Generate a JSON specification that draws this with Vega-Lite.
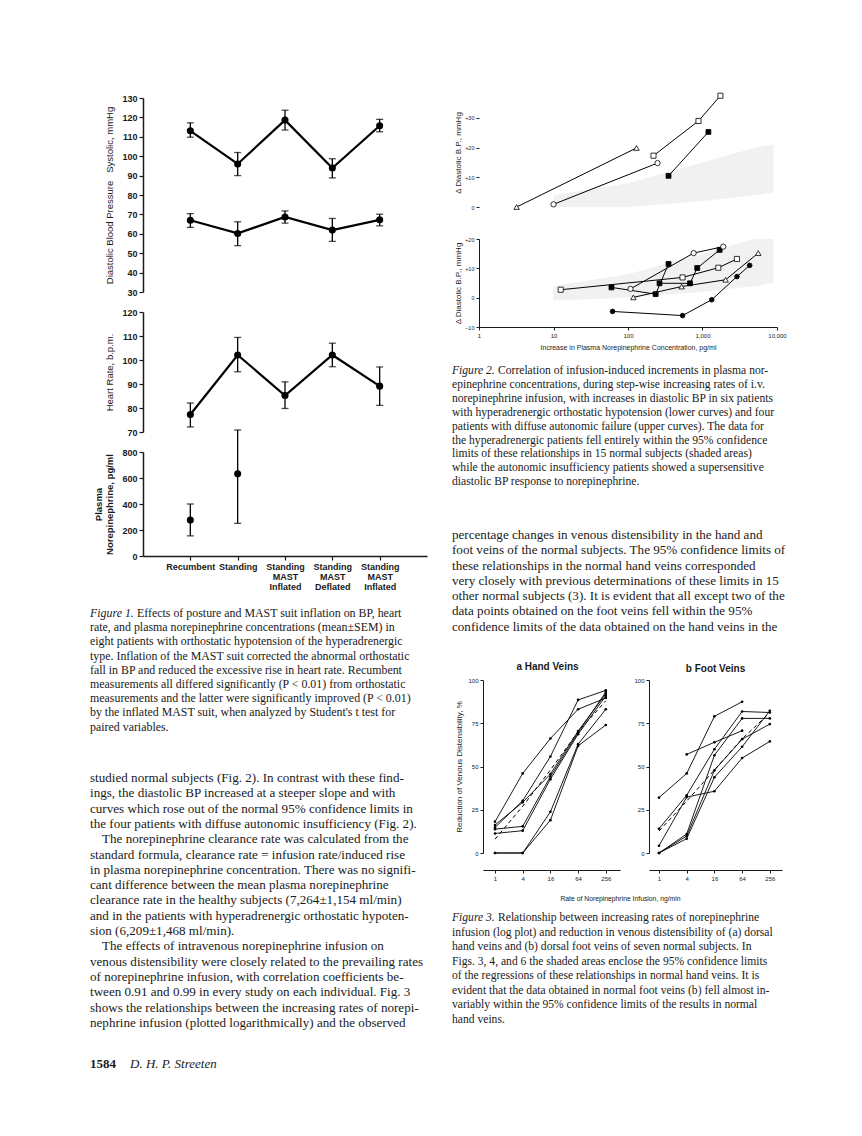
{
"$schema":"https://vega.github.io/schema/vega-lite/v6.json",
"background":"white",
"autosize":{"type":"pad"},
"padding":{"left":90,"top":91,"right":80,"bottom":58},
"config":{"view":{"stroke":null},"axis":{"labelFont":"Liberation Sans","titleFont":"Liberation Sans","grid":false,"labelOverlap":false,"labelFlush":false,"domainColor":"#1a1a1a","tickColor":"#1a1a1a","labelColor":"#1a1a1a","titleColor":"#1a1a1a"},"title":{"font":"Liberation Sans","color":"#1a1a1a"},"text":{"color":"#1a1a1a"}},
"datasets":{
"fig1":[
{"measure":"Systolic","cond":"Recumbent","mean":113.1,"lo":109.8,"hi":117.2},
{"measure":"Systolic","cond":"Standing","mean":96,"lo":90,"hi":101.9},
{"measure":"Systolic","cond":"Standing MAST Inflated","mean":118.6,"lo":113.5,"hi":123.7},
{"measure":"Systolic","cond":"Standing MAST Deflated","mean":93.9,"lo":88.8,"hi":98.7},
{"measure":"Systolic","cond":"Standing MAST Inflated#2","mean":115.7,"lo":112.6,"hi":119},
{"measure":"Diastolic","cond":"Recumbent","mean":67,"lo":63.3,"hi":70.4},
{"measure":"Diastolic","cond":"Standing","mean":60.2,"lo":53.9,"hi":66.2},
{"measure":"Diastolic","cond":"Standing MAST Inflated","mean":68.7,"lo":65.5,"hi":71.8},
{"measure":"Diastolic","cond":"Standing MAST Deflated","mean":61.9,"lo":56.1,"hi":67.9},
{"measure":"Diastolic","cond":"Standing MAST Inflated#2","mean":67.2,"lo":64.1,"hi":70.1},
{"measure":"Heart rate","cond":"Recumbent","mean":77.3,"lo":72.1,"hi":82.1},
{"measure":"Heart rate","cond":"Standing","mean":102.1,"lo":95.1,"hi":109.4},
{"measure":"Heart rate","cond":"Standing MAST Inflated","mean":85.2,"lo":79.8,"hi":90.9},
{"measure":"Heart rate","cond":"Standing MAST Deflated","mean":102.1,"lo":97.2,"hi":107},
{"measure":"Heart rate","cond":"Standing MAST Inflated#2","mean":89.1,"lo":81.1,"hi":97.1},
{"measure":"Norepinephrine","cond":"Recumbent","mean":276,"lo":155,"hi":400},
{"measure":"Norepinephrine","cond":"Standing","mean":632,"lo":251,"hi":969}
],
"fig2":[
{"panel":"diffuse","subject":"D1","marker":"open triangle","ne":3.2,"dbp":0},
{"panel":"diffuse","subject":"D1","marker":"open triangle","ne":130,"dbp":19.9},
{"panel":"diffuse","subject":"D2","marker":"open circle","ne":10,"dbp":0.9},
{"panel":"diffuse","subject":"D2","marker":"open circle","ne":249,"dbp":14.8},
{"panel":"diffuse","subject":"D3","marker":"open square","ne":220,"dbp":17.3},
{"panel":"diffuse","subject":"D3","marker":"open square","ne":883,"dbp":29},
{"panel":"diffuse","subject":"D3","marker":"open square","ne":1740,"dbp":37.5},
{"panel":"diffuse","subject":"D4","marker":"filled square","ne":350,"dbp":10.5},
{"panel":"diffuse","subject":"D4","marker":"filled square","ne":1200,"dbp":25.3},
{"panel":"hyper","subject":"H1","marker":"open square","ne":12.5,"dbp":2.7},
{"panel":"hyper","subject":"H1","marker":"open square","ne":540,"dbp":6.9},
{"panel":"hyper","subject":"H1","marker":"open square","ne":1630,"dbp":10.2},
{"panel":"hyper","subject":"H1","marker":"open square","ne":2900,"dbp":13.2},
{"panel":"hyper","subject":"H2","marker":"filled square","ne":60,"dbp":3.5},
{"panel":"hyper","subject":"H2","marker":"filled square","ne":235,"dbp":1.2},
{"panel":"hyper","subject":"H2","marker":"filled square","ne":350,"dbp":11.5},
{"panel":"hyper","subject":"H3","marker":"filled square","ne":265,"dbp":4.9},
{"panel":"hyper","subject":"H3","marker":"filled square","ne":680,"dbp":4.9},
{"panel":"hyper","subject":"H3","marker":"filled square","ne":850,"dbp":10.1},
{"panel":"hyper","subject":"H3","marker":"filled square","ne":1700,"dbp":16.3},
{"panel":"hyper","subject":"H4","marker":"open triangle","ne":118,"dbp":0.1},
{"panel":"hyper","subject":"H4","marker":"open triangle","ne":525,"dbp":3.8},
{"panel":"hyper","subject":"H4","marker":"open triangle","ne":2040,"dbp":6.1},
{"panel":"hyper","subject":"H4","marker":"open triangle","ne":5600,"dbp":15.2},
{"panel":"hyper","subject":"H5","marker":"open circle","ne":108,"dbp":3},
{"panel":"hyper","subject":"H5","marker":"open circle","ne":760,"dbp":15.2},
{"panel":"hyper","subject":"H5","marker":"open circle","ne":1900,"dbp":17.4},
{"panel":"hyper","subject":"H6","marker":"dot","ne":62,"dbp":-4.7},
{"panel":"hyper","subject":"H6","marker":"dot","ne":540,"dbp":-6.1},
{"panel":"hyper","subject":"H6","marker":"dot","ne":1330,"dbp":-0.7},
{"panel":"hyper","subject":"H6","marker":"dot","ne":2900,"dbp":7.2},
{"panel":"hyper","subject":"H6","marker":"dot","ne":4300,"dbp":11}
],
"band":[
{"ne":10,"dbp":-1,"dbp2":4},
{"ne":100,"dbp":0,"dbp2":8},
{"ne":1000,"dbp":2,"dbp2":15},
{"ne":5000,"dbp":4,"dbp2":20},
{"ne":9000,"dbp":5,"dbp2":21}
],
"hand":[
{"subject":"S1","rate":1,"red":18.1},{"subject":"S1","rate":4,"red":46},{"subject":"S1","rate":16,"red":66.2},{"subject":"S1","rate":64,"red":83.1},{"subject":"S1","rate":256,"red":89.6},
{"subject":"S2","rate":1,"red":14.8},{"subject":"S2","rate":4,"red":30.2},{"subject":"S2","rate":16,"red":55.8},{"subject":"S2","rate":64,"red":88.5},{"subject":"S2","rate":256,"red":94},
{"subject":"S3","rate":1,"red":16.2},{"subject":"S3","rate":4,"red":29.3},{"subject":"S3","rate":16,"red":45.6},{"subject":"S3","rate":64,"red":70.5},{"subject":"S3","rate":256,"red":92},
{"subject":"S4","rate":1,"red":13.8},{"subject":"S4","rate":4,"red":15.4},{"subject":"S4","rate":16,"red":44.2},{"subject":"S4","rate":64,"red":69.6},{"subject":"S4","rate":256,"red":93},
{"subject":"S5","rate":1,"red":11.3},{"subject":"S5","rate":4,"red":12.9},{"subject":"S5","rate":16,"red":42.7},{"subject":"S5","rate":64,"red":68.7},{"subject":"S5","rate":256,"red":90.8},
{"subject":"S6","rate":1,"red":0},{"subject":"S6","rate":4,"red":0},{"subject":"S6","rate":16,"red":23.8},{"subject":"S6","rate":64,"red":62.9},{"subject":"S6","rate":256,"red":83.1},
{"subject":"S7","rate":1,"red":0},{"subject":"S7","rate":4,"red":0},{"subject":"S7","rate":16,"red":19},{"subject":"S7","rate":64,"red":61.9},{"subject":"S7","rate":256,"red":74},
{"subject":"mean","rate":1,"red":8},{"subject":"mean","rate":4,"red":27},{"subject":"mean","rate":16,"red":48},{"subject":"mean","rate":64,"red":70},{"subject":"mean","rate":256,"red":88}
],
"foot":[
{"subject":"F1","rate":1,"red":32},{"subject":"F1","rate":4,"red":46},{"subject":"F1","rate":16,"red":79},{"subject":"F1","rate":64,"red":87.4},
{"subject":"F2","rate":4,"red":57},{"subject":"F2","rate":16,"red":64},{"subject":"F2","rate":64,"red":70.7},
{"subject":"F3","rate":1,"red":14},{"subject":"F3","rate":4,"red":33.4},{"subject":"F3","rate":16,"red":60},{"subject":"F3","rate":64,"red":81.8},{"subject":"F3","rate":256,"red":81.2},
{"subject":"F4","rate":1,"red":4.2},{"subject":"F4","rate":4,"red":32.3},{"subject":"F4","rate":16,"red":35.7},{"subject":"F4","rate":64,"red":54.9},{"subject":"F4","rate":256,"red":64.5},
{"subject":"F5","rate":1,"red":0},{"subject":"F5","rate":4,"red":11},{"subject":"F5","rate":16,"red":56.5},{"subject":"F5","rate":64,"red":77.8},{"subject":"F5","rate":256,"red":77.8},
{"subject":"F6","rate":1,"red":0},{"subject":"F6","rate":4,"red":9.8},{"subject":"F6","rate":16,"red":47.8},{"subject":"F6","rate":64,"red":65.8},{"subject":"F6","rate":256,"red":74.5},
{"subject":"F7","rate":1,"red":0},{"subject":"F7","rate":4,"red":8.3},{"subject":"F7","rate":16,"red":43.8},{"subject":"F7","rate":64,"red":61.4},{"subject":"F7","rate":256,"red":82.2},
{"subject":"mean","rate":1,"red":12.7},{"subject":"mean","rate":4,"red":30},{"subject":"mean","rate":16,"red":48},{"subject":"mean","rate":64,"red":66},{"subject":"mean","rate":256,"red":81}
]
},
"bounds":"full",
"spacing":20,
"concat":[
{"bounds":"full","columns":1,"spacing":0,"concat":[
 {"bounds":"flush","spacing":0,"concat":[
  {"width":53,"height":1,"data":{"values":[]},"mark":"point"},
  {"bounds":"flush","columns":1,"spacing":20,"concat":[
   {"width":284,"height":194,"data":{"name":"fig1"},
    "transform":[{"filter":"datum.measure==='Systolic'||datum.measure==='Diastolic'"}],
    "encoding":{"x":{"field":"cond","type":"nominal","sort":null,"scale":{"type":"point","domain":["Recumbent","Standing","Standing MAST Inflated","Standing MAST Deflated","Standing MAST Inflated#2"],"padding":1},"axis":null},
     "y":{"field":"mean","type":"quantitative","title":"Diastolic Blood Pressure\u00a0\u00a0\u00a0Systolic, mmHg","scale":{"domain":[30,130],"nice":false,"zero":false},"axis":{"values":[30,40,50,60,70,80,90,100,110,120,130],"labelOverlap":false,"tickSize":4,"tickWidth":1.2,"domainWidth":1.5,"labelFontWeight":"bold","labelFontSize":9,"labelPadding":2,"titleFontWeight":"normal","titleFontSize":9.5,"titlePadding":7}}},
    "layer":[
     {"mark":{"type":"line","color":"black","strokeWidth":2.2},"encoding":{"detail":{"field":"measure"}}},
     {"mark":{"type":"rule","color":"black","strokeWidth":1.3},"encoding":{"y":{"field":"lo","type":"quantitative"},"y2":{"field":"hi"}}},
     {"mark":{"type":"tick","orient":"horizontal","color":"black","size":7,"thickness":1.3},"encoding":{"y":{"field":"lo","type":"quantitative"}}},
     {"mark":{"type":"tick","orient":"horizontal","color":"black","size":7,"thickness":1.3},"encoding":{"y":{"field":"hi","type":"quantitative"}}},
     {"mark":{"type":"circle","color":"black","size":50,"opacity":1}},
     {"data":{"values":[{}]},"mark":{"type":"text","align":"center","baseline":"middle","font":"Liberation Sans","fontWeight":"bold","fontSize":8.5},
      "encoding":{"x":{"datum":"Recumbent"},"y":{"datum":42.9},"text":{"value":"(mean ± SEM)"}}}
    ]},
   {"width":284,"height":120,"data":{"name":"fig1"},
    "transform":[{"filter":"datum.measure==='Heart rate'"}],
    "encoding":{"x":{"field":"cond","type":"nominal","sort":null,"scale":{"type":"point","domain":["Recumbent","Standing","Standing MAST Inflated","Standing MAST Deflated","Standing MAST Inflated#2"],"padding":1},"axis":null},
     "y":{"field":"mean","type":"quantitative","title":"Heart Rate, b.p.m.","scale":{"domain":[70,120],"nice":false,"zero":false},"axis":{"values":[70,80,90,100,110,120],"labelOverlap":false,"tickSize":4,"tickWidth":1.2,"domainWidth":1.5,"labelFontWeight":"bold","labelFontSize":9,"labelPadding":2,"titleFontWeight":"normal","titleFontSize":9.5,"titlePadding":7}}},
    "layer":[
     {"mark":{"type":"line","color":"black","strokeWidth":2.2}},
     {"mark":{"type":"rule","color":"black","strokeWidth":1.3},"encoding":{"y":{"field":"lo","type":"quantitative"},"y2":{"field":"hi"}}},
     {"mark":{"type":"tick","orient":"horizontal","color":"black","size":7,"thickness":1.3},"encoding":{"y":{"field":"lo","type":"quantitative"}}},
     {"mark":{"type":"tick","orient":"horizontal","color":"black","size":7,"thickness":1.3},"encoding":{"y":{"field":"hi","type":"quantitative"}}},
     {"mark":{"type":"circle","color":"black","size":50,"opacity":1}}
    ]},
   {"width":284,"height":104,"data":{"name":"fig1"},
    "transform":[{"filter":"datum.measure==='Norepinephrine'"}],
    "encoding":{"x":{"field":"cond","type":"nominal","sort":null,"scale":{"type":"point","domain":["Recumbent","Standing","Standing MAST Inflated","Standing MAST Deflated","Standing MAST Inflated#2"],"padding":1},"axis":{"labelExpr":"split(replace(datum.label,'#2',''),' ')","labelOverlap":false,"labelFontWeight":"bold","labelFontSize":9,"labelLineHeight":10.3,"labelAngle":0,"tickSize":4,"tickWidth":1.2,"domainWidth":1.5,"labelPadding":2,"title":null}},
     "y":{"field":"mean","type":"quantitative","title":["Plasma","Norepinephrine, pg/ml"],"scale":{"domain":[0,800],"nice":false},"axis":{"values":[0,200,400,600,800],"labelOverlap":false,"tickSize":4,"tickWidth":1.2,"domainWidth":1.5,"labelFontWeight":"bold","labelFontSize":9,"labelPadding":2,"titleFontWeight":"bold","titleFontSize":9.5,"titlePadding":7,"titleLineHeight":11}}},
    "layer":[
     {"mark":{"type":"rule","color":"black","strokeWidth":1.3},"encoding":{"y":{"field":"lo","type":"quantitative"},"y2":{"field":"hi"}}},
     {"mark":{"type":"tick","orient":"horizontal","color":"black","size":7,"thickness":1.3},"encoding":{"y":{"field":"lo","type":"quantitative"}}},
     {"mark":{"type":"tick","orient":"horizontal","color":"black","size":7,"thickness":1.3},"encoding":{"y":{"field":"hi","type":"quantitative"}}},
     {"mark":{"type":"circle","color":"black","size":50,"opacity":1}}
    ]}
  ]}
 ]},
 {"width":342,"height":158,
  "data":{"values":[
   {"line":1,"part":"label","text":"Figure 1."},
   {"line":1,"part":"lead","text":"Effects of posture and MAST suit inflation on BP, heart"},
   {"line":2,"part":"body","text":"rate, and plasma norepinephrine concentrations (mean±SEM) in"},
   {"line":3,"part":"body","text":"eight patients with orthostatic hypotension of the hyperadrenergic"},
   {"line":4,"part":"body","text":"type. Inflation of the MAST suit corrected the abnormal orthostatic"},
   {"line":5,"part":"body","text":"fall in BP and reduced the excessive rise in heart rate. Recumbent"},
   {"line":6,"part":"body","text":"measurements all differed significantly (P < 0.01) from orthostatic"},
   {"line":7,"part":"body","text":"measurements and the latter were significantly improved (P < 0.01)"},
   {"line":8,"part":"body","text":"by the inflated MAST suit, when analyzed by Student's t test for"},
   {"line":9,"part":"body","text":"paired variables."}
  ]},
  "encoding":{"x":{"datum":0,"type":"quantitative","scale":{"domain":[0,1]},"axis":null},"y":{"field":"line","type":"quantitative","scale":{"domain":[-0.479,10.648],"reverse":true,"nice":false,"zero":false},"axis":null},"text":{"field":"text"}},
  "layer":[
   {"transform":[{"filter":"datum.part==='body'"}],"mark":{"type":"text","align":"left","baseline":"middle","font":"Liberation Serif","fontSize":11.9}},
   {"transform":[{"filter":"datum.part==='label'"}],"mark":{"type":"text","align":"left","baseline":"middle","font":"Liberation Serif","fontSize":11.9,"fontStyle":"italic"}},
   {"transform":[{"filter":"datum.part==='lead'"}],"mark":{"type":"text","align":"left","baseline":"middle","font":"Liberation Serif","fontSize":11.9,"dx":47}}
  ]},
 {"width":342,"height":291,
  "data":{"values":[
   {"line":1,"part":"body","text":"studied normal subjects (Fig. 2). In contrast with these find-"},
   {"line":2,"part":"body","text":"ings, the diastolic BP increased at a steeper slope and with"},
   {"line":3,"part":"body","text":"curves which rose out of the normal 95% confidence limits in"},
   {"line":4,"part":"body","text":"the four patients with diffuse autonomic insufficiency (Fig. 2)."},
   {"line":5,"part":"indent","text":"The norepinephrine clearance rate was calculated from the"},
   {"line":6,"part":"body","text":"standard formula, clearance rate = infusion rate/induced rise"},
   {"line":7,"part":"body","text":"in plasma norepinephrine concentration. There was no signifi-"},
   {"line":8,"part":"body","text":"cant difference between the mean plasma norepinephrine"},
   {"line":9,"part":"body","text":"clearance rate in the healthy subjects (7,264±1,154 ml/min)"},
   {"line":10,"part":"body","text":"and in the patients with hyperadrenergic orthostatic hypoten-"},
   {"line":11,"part":"body","text":"sion (6,209±1,468 ml/min)."},
   {"line":12,"part":"indent","text":"The effects of intravenous norepinephrine infusion on"},
   {"line":13,"part":"body","text":"venous distensibility were closely related to the prevailing rates"},
   {"line":14,"part":"body","text":"of norepinephrine infusion, with correlation coefficients be-"},
   {"line":15,"part":"body","text":"tween 0.91 and 0.99 in every study on each individual. Fig. 3"},
   {"line":16,"part":"body","text":"shows the relationships between the increasing rates of norepi-"},
   {"line":17,"part":"body","text":"nephrine infusion (plotted logarithmically) and the observed"}
  ]},
  "encoding":{"x":{"datum":0,"type":"quantitative","scale":{"domain":[0,1]},"axis":null},"y":{"field":"line","type":"quantitative","scale":{"domain":[-0.829,18.178],"reverse":true,"nice":false,"zero":false},"axis":null},"text":{"field":"text"}},
  "layer":[
   {"transform":[{"filter":"datum.part==='body'"}],"mark":{"type":"text","align":"left","baseline":"middle","font":"Liberation Serif","fontSize":13.1}},
   {"transform":[{"filter":"datum.part==='indent'"}],"mark":{"type":"text","align":"left","baseline":"middle","font":"Liberation Serif","fontSize":13.1,"dx":12}}
  ]},
 {"width":342,"height":40,
  "data":{"values":[{"line":1,"part":"label","text":"1584"},{"line":1,"part":"lead","text":"D. H. P. Streeten"}]},
  "encoding":{"x":{"datum":0,"type":"quantitative","scale":{"domain":[0,1]},"axis":null},"y":{"field":"line","type":"quantitative","scale":{"domain":[-0.15,1.85],"reverse":true,"nice":false,"zero":false},"axis":null},"text":{"field":"text"}},
  "layer":[
   {"transform":[{"filter":"datum.part==='label'"}],"mark":{"type":"text","align":"left","baseline":"middle","font":"Liberation Serif","fontSize":13,"fontWeight":"bold"}},
   {"transform":[{"filter":"datum.part==='lead'"}],"mark":{"type":"text","align":"left","baseline":"middle","font":"Liberation Serif","fontSize":13,"fontStyle":"italic","dx":40}}
  ]}
]},
{"bounds":"full","columns":1,"spacing":0,"concat":[
 {"bounds":"flush","spacing":0,"concat":[
  {"width":27,"height":1,"data":{"values":[]},"mark":"point"},
  {"bounds":"flush","columns":1,"spacing":32,"concat":[
   {"width":298,"height":109,
    "encoding":{"x":{"field":"ne","type":"quantitative","scale":{"type":"log","domain":[1,10000],"nice":false},"axis":null},
     "y":{"field":"dbp","type":"quantitative","title":"Δ Diastolic B.P., mmHg","scale":{"domain":[0,36.74],"nice":false,"zero":false},"axis":{"values":[0,10,20,30],"domain":false,"labelExpr":"datum.value>0?'+'+datum.value:datum.label","tickSize":3,"tickWidth":1,"labelFontSize":5.5,"labelPadding":2,"titleFontSize":8,"titleFontWeight":"normal","titlePadding":2}}},
    "layer":[
     {"data":{"name":"band"},"mark":{"type":"area","color":"#f1f1f1","clip":true},"encoding":{"y2":{"field":"dbp2"}}},
     {"data":{"values":[{}]},"mark":{"type":"rule","color":"#1a1a1a","strokeWidth":1},"encoding":{"x":{"datum":1},"y":{"datum":0},"y2":{"datum":30}}},
     {"data":{"name":"fig2"},"transform":[{"filter":"datum.panel==='diffuse'"}],"mark":{"type":"line","color":"black","strokeWidth":1},"encoding":{"detail":{"field":"subject"}}},
     {"data":{"name":"fig2"},"transform":[{"filter":"datum.panel==='diffuse'"}],"mark":{"type":"point","filled":true,"stroke":"black","strokeWidth":0.8,"opacity":1},
      "encoding":{"shape":{"field":"marker","type":"nominal","scale":{"domain":["open triangle","open circle","open square","filled square","dot"],"range":["triangle-up","circle","square","square","circle"]},"legend":null},
       "fill":{"field":"marker","type":"nominal","scale":{"domain":["open triangle","open circle","open square","filled square","dot"],"range":["white","white","white","black","black"]},"legend":null},
       "size":{"field":"marker","type":"nominal","scale":{"domain":["open triangle","open circle","open square","filled square","dot"],"range":[30,22,24,24,8]},"legend":null}}},
     {"data":{"values":[{}]},"mark":{"type":"text","align":"left","baseline":"middle","font":"Liberation Mono","fontSize":9},"encoding":{"x":{"datum":1.33},"y":{"datum":27.6},"text":{"value":"Diffuse Autonomic Insufficiency"}}}
    ]},
   {"width":298,"height":88,
    "encoding":{"x":{"field":"ne","type":"quantitative","scale":{"type":"log","domain":[1,10000],"nice":false},"axis":{"values":[1,10,100,1000,10000],"format":",","tickSize":3,"tickWidth":1,"domainWidth":1,"labelFontSize":6,"labelPadding":2,"title":"Increase in Plasma Norepinephrine Concentration, pg/ml","titleFontSize":7,"titleFontWeight":"normal","titlePadding":5}},
     "y":{"field":"dbp","type":"quantitative","title":"Δ Diastolic B.P., mmHg","scale":{"domain":[-10,20],"nice":false,"zero":false},"axis":{"values":[-10,0,10,20],"labelExpr":"datum.value>0?'+'+datum.value:datum.label","tickSize":3,"tickWidth":1,"domainWidth":1,"labelFontSize":5.5,"labelPadding":2,"titleFontSize":8,"titleFontWeight":"normal","titlePadding":2}}},
    "layer":[
     {"data":{"name":"band"},"mark":{"type":"area","color":"#f1f1f1","clip":true},"encoding":{"y2":{"field":"dbp2"}}},
     {"data":{"name":"fig2"},"transform":[{"filter":"datum.panel==='hyper'"}],"mark":{"type":"line","color":"black","strokeWidth":1},"encoding":{"detail":{"field":"subject"}}},
     {"data":{"name":"fig2"},"transform":[{"filter":"datum.panel==='hyper'"}],"mark":{"type":"point","filled":true,"stroke":"black","strokeWidth":0.8,"opacity":1},
      "encoding":{"shape":{"field":"marker","type":"nominal","scale":{"domain":["open triangle","open circle","open square","filled square","dot"],"range":["triangle-up","circle","square","square","circle"]},"legend":null},
       "fill":{"field":"marker","type":"nominal","scale":{"domain":["open triangle","open circle","open square","filled square","dot"],"range":["white","white","white","black","black"]},"legend":null},
       "size":{"field":"marker","type":"nominal","scale":{"domain":["open triangle","open circle","open square","filled square","dot"],"range":[30,22,24,24,8]},"legend":null}}},
     {"data":{"values":[{}]},"mark":{"type":"text","align":"left","baseline":"middle","font":"Liberation Mono","fontSize":9},"encoding":{"x":{"datum":1.22},"y":{"datum":19.7},"text":{"value":"Hyperadrenergic Orthostatic Hypotension"}}}
    ]}
  ]}
 ]},
 {"width":330,"height":160,
  "data":{"values":[
   {"line":1,"part":"label","text":"Figure 2."},
   {"line":1,"part":"lead","text":"Correlation of infusion-induced increments in plasma nor-"},
   {"line":2,"part":"body","text":"epinephrine concentrations, during step-wise increasing rates of i.v."},
   {"line":3,"part":"body","text":"norepinephrine infusion, with increases in diastolic BP in six patients"},
   {"line":4,"part":"body","text":"with hyperadrenergic orthostatic hypotension (lower curves) and four"},
   {"line":5,"part":"body","text":"patients with diffuse autonomic failure (upper curves). The data for"},
   {"line":6,"part":"body","text":"the hyperadrenergic patients fell entirely within the 95% confidence"},
   {"line":7,"part":"body","text":"limits of these relationships in 15 normal subjects (shaded areas)"},
   {"line":8,"part":"body","text":"while the autonomic insufficiency patients showed a supersensitive"},
   {"line":9,"part":"body","text":"diastolic BP response to norepinephrine."}
  ]},
  "encoding":{"x":{"datum":0,"type":"quantitative","scale":{"domain":[0,1]},"axis":null},"y":{"field":"line","type":"quantitative","scale":{"domain":[-0.511,11.0],"reverse":true,"nice":false,"zero":false},"axis":null},"text":{"field":"text"}},
  "layer":[
   {"transform":[{"filter":"datum.part==='body'"}],"mark":{"type":"text","align":"left","baseline":"middle","font":"Liberation Serif","fontSize":11.6}},
   {"transform":[{"filter":"datum.part==='label'"}],"mark":{"type":"text","align":"left","baseline":"middle","font":"Liberation Serif","fontSize":11.6,"fontStyle":"italic"}},
   {"transform":[{"filter":"datum.part==='lead'"}],"mark":{"type":"text","align":"left","baseline":"middle","font":"Liberation Serif","fontSize":11.6,"dx":46}}
  ]},
 {"width":330,"height":152,
  "data":{"values":[
   {"line":1,"text":"percentage changes in venous distensibility in the hand and"},
   {"line":2,"text":"foot veins of the normal subjects. The 95% confidence limits of"},
   {"line":3,"text":"these relationships in the normal hand veins corresponded"},
   {"line":4,"text":"very closely with previous determinations of these limits in 15"},
   {"line":5,"text":"other normal subjects (3). It is evident that all except two of the"},
   {"line":6,"text":"data points obtained on the foot veins fell within the 95%"},
   {"line":7,"text":"confidence limits of the data obtained on the hand veins in the"}
  ]},
  "mark":{"type":"text","align":"left","baseline":"middle","font":"Liberation Serif","fontSize":13.1},
  "encoding":{"x":{"datum":0,"type":"quantitative","scale":{"domain":[0,1]},"axis":null},"y":{"field":"line","type":"quantitative","scale":{"domain":[-0.634,9.301],"reverse":true,"nice":false,"zero":false},"axis":null},"text":{"field":"text"}}},
 {"bounds":"flush","spacing":29,"concat":[
  {"width":2,"height":1,"data":{"values":[]},"mark":"point"},
  {"width":137,"height":173,
   "title":{"text":"a  Hand Veins","fontSize":10,"fontWeight":"bold","offset":5,"dx":-4,"anchor":"middle"},
   "data":{"name":"hand"},
   "encoding":{"x":{"field":"rate","type":"quantitative","scale":{"type":"log","base":2,"domain":[0.548,521],"nice":false},"axis":{"values":[1,4,16,64,256],"format":"d","offset":17,"tickSize":3,"tickWidth":1,"domainWidth":1,"labelFontSize":6,"labelPadding":2,"title":"Rate of Norepinephrine Infusion, ng/min","titleFontSize":6.8,"titleFontWeight":"normal","titleAnchor":"end","titleAlign":"center","titlePadding":14}},
    "y":{"field":"red","type":"quantitative","title":"Reduction of Venous Distensibility, %","scale":{"domain":[0,100],"nice":false},"axis":{"values":[0,25,50,75,100],"tickSize":3,"tickWidth":1,"domainWidth":1,"labelFontSize":6,"labelPadding":2,"titleFontSize":8,"titleFontWeight":"normal","titlePadding":4}}},
   "layer":[
    {"transform":[{"filter":"datum.subject!=='mean'"}],"mark":{"type":"line","color":"black","strokeWidth":0.9},"encoding":{"detail":{"field":"subject"}}},
    {"transform":[{"filter":"datum.subject!=='mean'"}],"mark":{"type":"circle","color":"black","size":7,"opacity":1}},
    {"transform":[{"filter":"datum.subject==='mean'"}],"mark":{"type":"line","color":"black","strokeWidth":1,"strokeDash":[4,3]}},
    {"data":{"values":[{}]},"mark":{"type":"rule","color":"black","strokeWidth":1,"strokeDash":[3,2]},"encoding":{"x":{"datum":28.2},"x2":{"datum":42.7},"y":{"datum":0.4}}},
    {"data":{"values":[{}]},"mark":{"type":"text","align":"left","baseline":"top","font":"Liberation Sans","fontSize":5.5,"lineHeight":6.5,"color":"#333"},"encoding":{"x":{"datum":49.5},"y":{"datum":2.3},"text":{"value":["mean normal","hand veins"]}}}
   ]},
  {"width":133,"height":173,
   "title":{"text":"b  Foot Veins","fontSize":10,"fontWeight":"bold","offset":3,"anchor":"middle"},
   "data":{"name":"foot"},
   "encoding":{"x":{"field":"rate","type":"quantitative","scale":{"type":"log","base":2,"domain":[0.606,471],"nice":false},"axis":{"values":[1,4,16,64,256],"format":"d","offset":17,"tickSize":3,"tickWidth":1,"domainWidth":1,"labelFontSize":6,"labelPadding":2,"title":null}},
    "y":{"field":"red","type":"quantitative","title":null,"scale":{"domain":[0,100],"nice":false},"axis":{"values":[0,25,50,75,100],"tickSize":3,"tickWidth":1,"domainWidth":1,"labelFontSize":6,"labelPadding":2}}},
   "layer":[
    {"transform":[{"filter":"datum.subject!=='mean'"}],"mark":{"type":"line","color":"black","strokeWidth":0.9},"encoding":{"detail":{"field":"subject"}}},
    {"transform":[{"filter":"datum.subject!=='mean'"}],"mark":{"type":"circle","color":"black","size":7,"opacity":1}},
    {"transform":[{"filter":"datum.subject==='mean'"}],"mark":{"type":"line","color":"black","strokeWidth":1,"strokeDash":[4,3]}},
    {"data":{"values":[{}]},"mark":{"type":"rule","color":"black","strokeWidth":1,"strokeDash":[3,2]},"encoding":{"x":{"datum":35},"x2":{"datum":44.9},"y":{"datum":1.3}}},
    {"data":{"values":[{}]},"mark":{"type":"text","align":"left","baseline":"top","font":"Liberation Sans","fontSize":5.5,"lineHeight":6.5,"color":"#333"},"encoding":{"x":{"datum":49.5},"y":{"datum":2.9},"text":{"value":["mean normal","foot veins"]}}}
   ]}
 ]},
 {"width":330,"height":142,
  "data":{"values":[
   {"line":1,"part":"label","text":"Figure 3."},
   {"line":1,"part":"lead","text":"Relationship between increasing rates of norepinephrine"},
   {"line":2,"part":"body","text":"infusion (log plot) and reduction in venous distensibility of (a) dorsal"},
   {"line":3,"part":"body","text":"hand veins and (b) dorsal foot veins of seven normal subjects. In"},
   {"line":4,"part":"body","text":"Figs. 3, 4, and 6 the shaded areas enclose the 95% confidence limits"},
   {"line":5,"part":"body","text":"of the regressions of these relationships in normal hand veins. It is"},
   {"line":6,"part":"body","text":"evident that the data obtained in normal foot veins (b) fell almost in-"},
   {"line":7,"part":"body","text":"variably within the 95% confidence limits of the results in normal"},
   {"line":8,"part":"body","text":"hand veins."}
  ]},
  "encoding":{"x":{"datum":0,"type":"quantitative","scale":{"domain":[0,1]},"axis":null},"y":{"field":"line","type":"quantitative","scale":{"domain":[-0.119,9.671],"reverse":true,"nice":false,"zero":false},"axis":null},"text":{"field":"text"}},
  "layer":[
   {"transform":[{"filter":"datum.part==='body'"}],"mark":{"type":"text","align":"left","baseline":"middle","font":"Liberation Serif","fontSize":11.6}},
   {"transform":[{"filter":"datum.part==='label'"}],"mark":{"type":"text","align":"left","baseline":"middle","font":"Liberation Serif","fontSize":11.6,"fontStyle":"italic"}},
   {"transform":[{"filter":"datum.part==='lead'"}],"mark":{"type":"text","align":"left","baseline":"middle","font":"Liberation Serif","fontSize":11.6,"dx":46}}
  ]}
]}
]
}
